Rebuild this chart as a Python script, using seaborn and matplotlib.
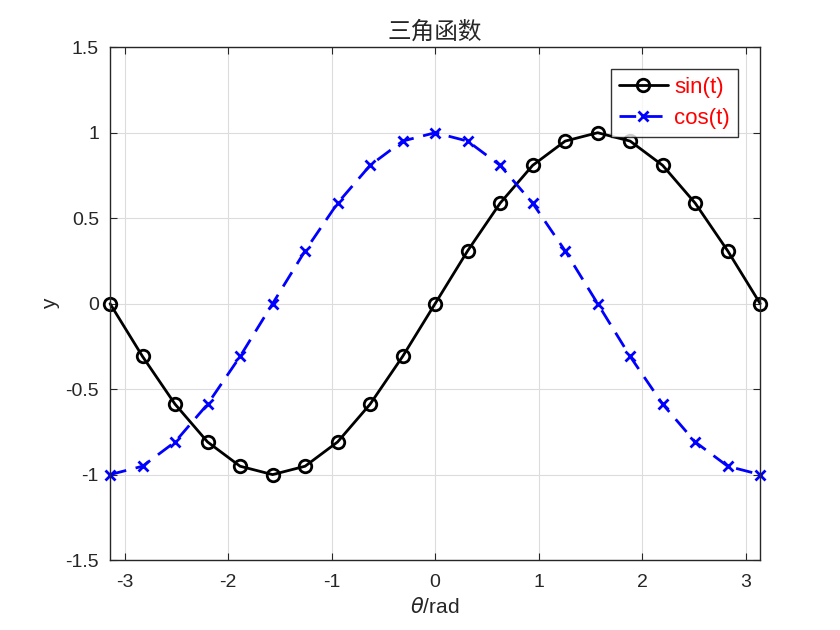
import matplotlib
matplotlib.use("Agg")
from matplotlib import pyplot as plt
import pandas as pd
import seaborn as sns

# sample points (t from -pi to pi, 21 points)
t = [-3.1416, -2.8274, -2.5133, -2.1991, -1.8850, -1.5708, -1.2566, -0.9425, -0.6283, -0.3142,
     0.0, 0.3142, 0.6283, 0.9425, 1.2566, 1.5708, 1.8850, 2.1991, 2.5133, 2.8274, 3.1416]
sin_vals = [0.0, -0.309, -0.588, -0.809, -0.951, -1.0, -0.951, -0.809, -0.588, -0.309,
            0.0, 0.309, 0.588, 0.809, 0.951, 1.0, 0.951, 0.809, 0.588, 0.309, 0.0]
cos_vals = [-1.0, -0.951, -0.809, -0.588, -0.309, 0.0, 0.309, 0.588, 0.809, 0.951,
            1.0, 0.951, 0.809, 0.588, 0.309, 0.0, -0.309, -0.588, -0.809, -0.951, -1.0]
xticks = [-3, -2, -1, 0, 1, 2, 3]
yticks = [-1.5, -1, -0.5, 0, 0.5, 1, 1.5]
ytick_labels = ["-1.5", "-1", "-0.5", "0", "0.5", "1", "1.5"]

df = pd.DataFrame({"t": t, "sin": sin_vals, "cos": cos_vals})

sns.set_style("white")
plt.rcParams["font.family"] = ["Liberation Sans", "DejaVu Sans"]

fig = plt.figure(figsize=(8.4, 6.3), dpi=100)
ax = fig.add_axes([0.131, 0.111, 0.774, 0.814])

sns.lineplot(data=df, x="t", y="sin", ax=ax, color="black", lw=2, marker="o",
             markersize=9, markerfacecolor="none", markeredgewidth=2,
             markeredgecolor="black", label="sin(t)", clip_on=False)
sns.lineplot(data=df, x="t", y="cos", ax=ax, color="blue", lw=2, marker="x",
             markersize=7, markeredgewidth=2, markeredgecolor="blue", label="cos(t)",
             clip_on=False)
ax.lines[1].set_dashes([6, 3.5])

ax.set_xlim(-3.1416, 3.1416)
ax.set_ylim(-1.5, 1.5)
ax.set_xticks(xticks)
ax.set_xticklabels([str(v) for v in xticks])
ax.set_yticks(yticks)
ax.set_yticklabels(ytick_labels)
ax.grid(True, color="#dcdcdc", lw=0.8)
ax.tick_params(direction="in", length=5, labelsize=14, colors="#262626",
               top=True, right=True, bottom=True, left=True)
ax.tick_params(axis="x", pad=10)
ax.tick_params(axis="y", pad=8)
for s in ax.spines.values():
    s.set_color("#262626")
    s.set_linewidth(1)

ax.set_xlabel(r"$\theta$/rad", fontsize=15, color="#262626", labelpad=4)
ax.set_ylabel("y", fontsize=15, color="#262626", labelpad=4)
ax.set_title("三角函数", fontsize=17, family=["Noto Sans CJK SC", "DejaVu Sans"], pad=6)

leg = ax.legend(loc="upper right", fontsize=16, frameon=True, fancybox=False,
                edgecolor="black", handlelength=2.2, handletextpad=0.3,
                borderpad=0.35, labelspacing=0.45, borderaxespad=1.0)
leg.get_frame().set_linewidth(1)
leg.set_zorder(10)
for txt in leg.get_texts():
    txt.set_color("red")

fig.savefig("out.png", dpi=100, facecolor="white")
